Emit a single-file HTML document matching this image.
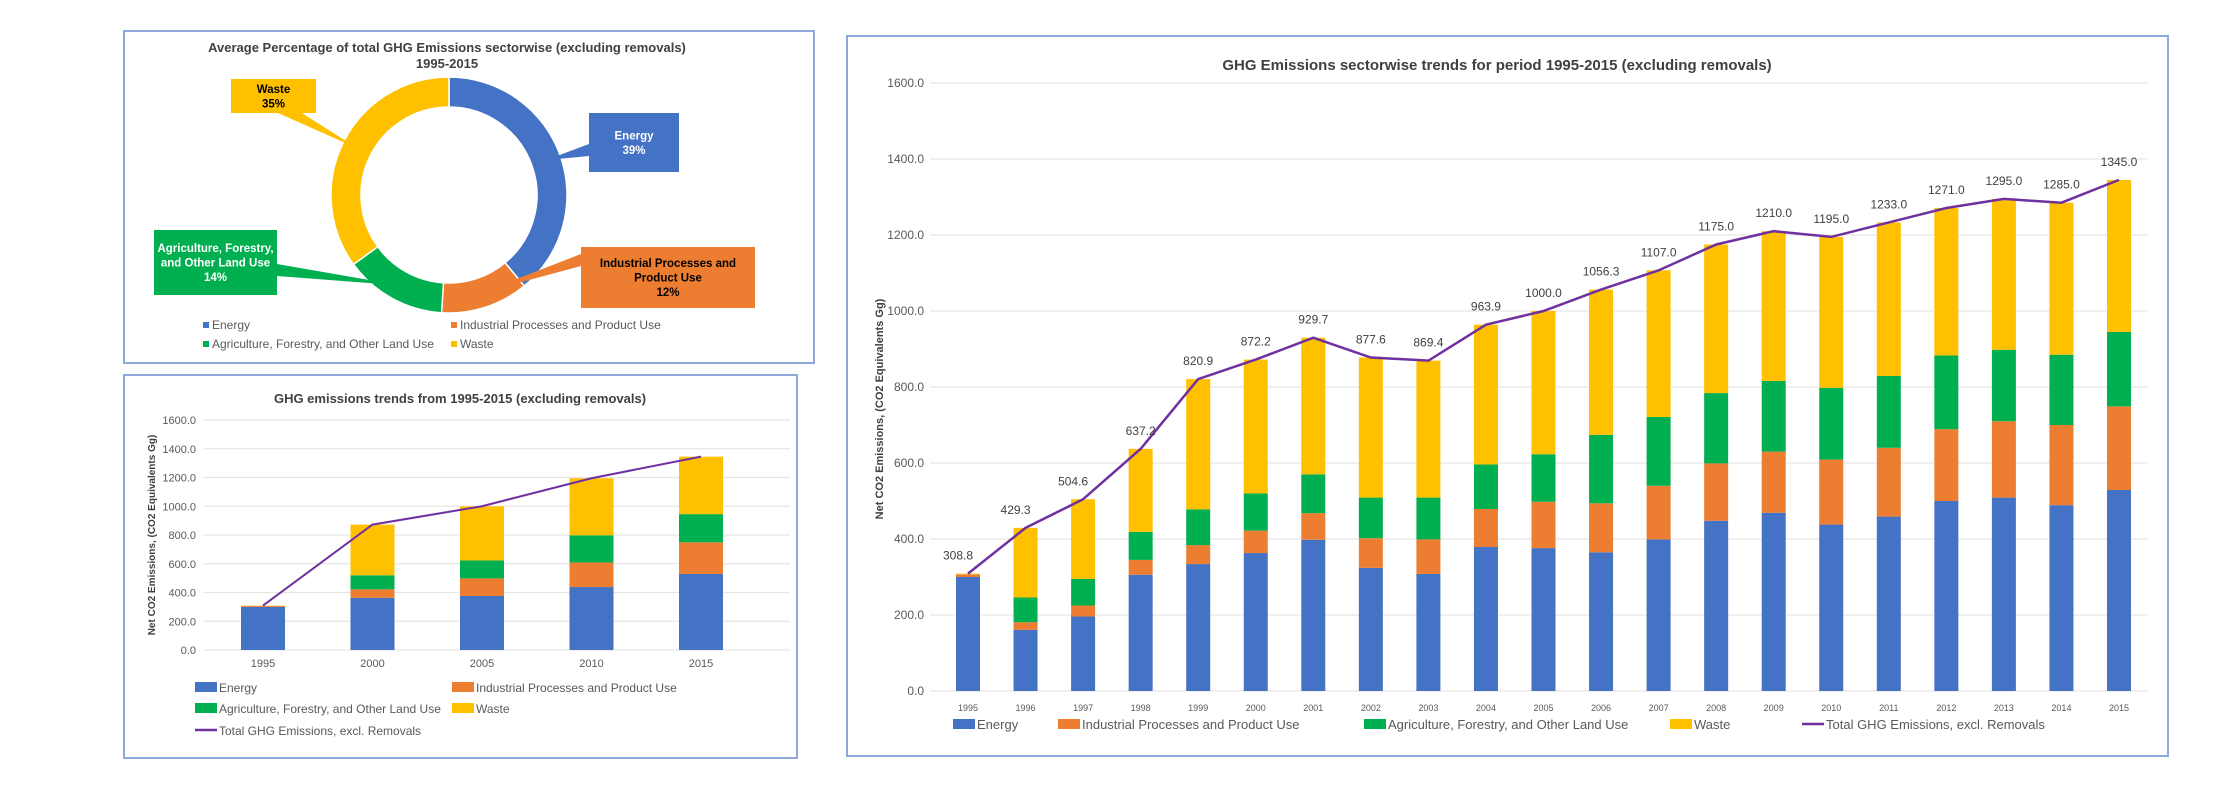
<!DOCTYPE html>
<html><head><meta charset="utf-8">
<style>
body{margin:0;background:#fff;width:2213px;height:800px;overflow:hidden;font-family:"Liberation Sans",sans-serif;}
svg{display:block}
</style></head>
<body>
<svg id="svg" width="2213" height="800" viewBox="0 0 2213 800" xmlns="http://www.w3.org/2000/svg">
  <rect x="124" y="31" width="690" height="332" fill="#fff" stroke="#8eaadb" stroke-width="2"/>
  <rect x="124" y="375" width="673" height="383" fill="#fff" stroke="#8eaadb" stroke-width="2"/>
  <rect x="847" y="36" width="1321" height="720" fill="#fff" stroke="#8eaadb" stroke-width="2"/>
  <g id="donut"></g>
  <g id="small"></g>
  <g id="big"></g>
</svg>
<script>
const years = ["1995","1996","1997","1998","1999","2000","2001","2002","2003","2004","2005","2006","2007","2008","2009","2010","2011","2012","2013","2014","2015"];
const energy = [300,161,196,306,334,363,398,324,308,379,376,365,399,448,469,438,459,500,509,489,529];
const industrial = [7,20,29,39,50,59,70,78,91,100,122,129,141,151,161,171,181,189,201,211,220];
const agriculture = [0,65,70,74,94,98,102,107,110,117,125,180,181,185,186,189,189,194,188,185,196];
const waste = [1.8,183.3,209.6,218.2,342.9,352.2,359.7,368.6,360.4,367.9,377,382.3,386,391,394,397,404,388,397,400,400];
const totals = [308.8,429.3,504.6,637.2,820.9,872.2,929.7,877.6,869.4,963.9,1000.0,1056.3,1107.0,1175.0,1210.0,1195.0,1233.0,1271.0,1295.0,1285.0,1345.0];
const yTicks = [0,200,400,600,800,1000,1200,1400,1600];
const smallYears = ["1995","2000","2005","2010","2015"];
const smallEnergy = [300,363,376,438,529];
const smallIndustrial = [7,59,122,171,220];
const smallAgriculture = [0,98,125,189,196];
const smallWaste = [1.8,352.2,377,397,400];
const smallTotals = [308.8,872.2,1000.0,1195.0,1345.0];
const donutLabels = ["Energy","Industrial Processes and Product Use","Agriculture, Forestry, and Other Land Use","Waste"];
const donutShares = [39,12,14,35];

const NS="http://www.w3.org/2000/svg";
const COLORS=["#4472c4","#ed7d31","#00b050","#ffc000"];
function mk(parent,tag,attrs,text){const e=document.createElementNS(NS,tag);for(const k in attrs)e.setAttribute(k,attrs[k]);if(text!==undefined)e.textContent=text;parent.appendChild(e);return e;}

function stacked(g,o){
  const y=v=>o.y0-(v/1600)*(o.y0-o.y1);
  const x=i=>o.xStart+i*o.step;
  yTicks.forEach(t=>{
    const l=mk(g,"line",{x1:o.gx0,x2:o.gx1,y1:y(t),y2:y(t),stroke:"#e6e6e6","stroke-width":1.2});
    
    
    const tx=mk(g,"text",{x:o.tickX,y:y(t)+4,"text-anchor":"end","font-size":o.tickFs,fill:"#595959"},t.toFixed(1));
    
    
  });
  o.cats.forEach((c,i)=>{
    let base=0;
    o.series.forEach((s,si)=>{
      const v=s[i];
      const r=mk(g,"rect",{x:x(i)-o.bw/2,y:y(base+v),width:o.bw,height:Math.max(0,y(base)-y(base+v)),fill:COLORS[si]});
      
      
      base+=v;
    });
    const t=mk(g,"text",{x:x(i),y:o.yearY,"text-anchor":"middle","font-size":o.yearFs,fill:"#595959"},c);
    
    
  });
  const pts=o.totals.map((v,i)=>x(i)+","+y(v)).join(" ");
  const pl=mk(g,"polyline",{points:pts,fill:"none",stroke:"#7030a0","stroke-width":o.lw});
  
  
  if(o.labels){
    o.totals.forEach((v,i)=>{
      const t=mk(g,"text",{x:x(i)-(i<3?10:0),y:y(v)-14,"text-anchor":"middle","font-size":12,fill:"#404040"},v.toFixed(1));
      
      
    });
  }
  const tt=mk(g,"text",{x:o.titleX,y:o.titleY,"text-anchor":"middle","font-size":o.titleFs,"font-weight":"bold",fill:"#404040"},o.title);
  
  
  const ya=mk(g,"text",{x:0,y:0,transform:`translate(${o.yaX},${o.yaY}) rotate(-90)`,"text-anchor":"middle","font-size":o.yaFs,"font-weight":"bold",fill:"#404040"},"Net CO2 Emissions, (CO2 Equivalents Gg)");
  
  
  o.legend.forEach(L=>{
    if(L.line){
      const ln=mk(g,"line",{x1:L.x,x2:L.x+22,y1:L.y,y2:L.y,stroke:"#7030a0","stroke-width":2.5});
      
      
    } else {
      const sw=mk(g,"rect",{x:L.x,y:L.y-5,width:22,height:10,fill:COLORS[L.c]});
      
      
    }
    const lt=mk(g,"text",{x:L.x+24,y:L.y+5,"font-size":o.legFs,fill:"#595959"},L.t);
    
    
  });
}

stacked(document.getElementById('big'),{
  cats:years,series:[energy,industrial,agriculture,waste],totals:totals,
  y0:691,y1:83,xStart:968,step:57.55,bw:24,gx0:930,gx1:2148,tickX:924,tickFs:12,
  yearY:711,yearFs:9,lw:2.5,labels:true,
  title:"GHG Emissions sectorwise trends for period 1995-2015 (excluding removals)",titleX:1497,titleY:70,titleFs:15,
  yaX:883,yaY:409,yaFs:11,legFs:13,
  legend:[{x:953,y:724,c:0,t:"Energy"},{x:1058,y:724,c:1,t:"Industrial Processes and Product Use"},{x:1364,y:724,c:2,t:"Agriculture, Forestry, and Other Land Use"},{x:1670,y:724,c:3,t:"Waste"},{x:1802,y:724,line:true,t:"Total GHG Emissions, excl. Removals"}]
});
stacked(document.getElementById('small'),{
  cats:smallYears,series:[smallEnergy,smallIndustrial,smallAgriculture,smallWaste],totals:smallTotals,
  y0:650,y1:420,xStart:263,step:109.5,bw:44,gx0:203,gx1:790,tickX:196,tickFs:11,
  yearY:667,yearFs:11,lw:2,labels:false,
  title:"GHG emissions trends from 1995-2015 (excluding removals)",titleX:460,titleY:403,titleFs:13,
  yaX:155,yaY:535,yaFs:10,legFs:12,
  legend:[{x:195,y:687,c:0,t:"Energy"},{x:452,y:687,c:1,t:"Industrial Processes and Product Use"},{x:195,y:708,c:2,t:"Agriculture, Forestry, and Other Land Use"},{x:452,y:708,c:3,t:"Waste"},{x:195,y:730,line:true,t:"Total GHG Emissions, excl. Removals"}]
});

// donut
(function(){
  const g=document.getElementById('donut');
  const cx=449,cy=195,R=118,r=88;
  const t1=mk(g,"text",{x:447,y:52,"text-anchor":"middle","font-size":13,"font-weight":"bold",fill:"#404040"},"Average Percentage of total GHG Emissions sectorwise (excluding removals)");
  
  
  const t2=mk(g,"text",{x:447,y:68,"text-anchor":"middle","font-size":13,"font-weight":"bold",fill:"#404040"},"1995-2015");
  
  
  const total=donutShares.reduce((a,b)=>a+b,0);
  let a0=0;
  const pt=(rad,a)=>[cx+rad*Math.sin(a),cy-rad*Math.cos(a)];
  const mids=[];
  donutShares.forEach((s,i)=>{
    const a1=a0+s/total*2*Math.PI;
    const [x1,y1]=pt(R,a0),[x2,y2]=pt(R,a1),[x3,y3]=pt(r,a1),[x4,y4]=pt(r,a0);
    const lg=(a1-a0)>Math.PI?1:0;
    const p=mk(g,"path",{d:`M${x1},${y1}A${R},${R} 0 ${lg} 1 ${x2},${y2}L${x3},${y3}A${r},${r} 0 ${lg} 0 ${x4},${y4}Z`,fill:COLORS[i],stroke:"#fff","stroke-width":1.5});
    
    
    mids.push(pt((R+r)/2,(a0+a1)/2));
    a0=a1;
  });
  const boxes=[
    {x:589,y:113,w:90,h:59,lines:["Energy","39%"],fc:"#fff",anchor:[589,150]},
    {x:581,y:247,w:174,h:61,lines:["Industrial Processes and","Product Use","12%"],fc:"#000",anchor:[581,260]},
    {x:154,y:230,w:123,h:65,lines:["Agriculture, Forestry,","and Other Land Use","14%"],fc:"#fff",anchor:[277,270]},
    {x:231,y:79,w:85,h:34,lines:["Waste","35%"],fc:"#000",anchor:[290,113]}
  ];
  boxes.forEach((b,i)=>{
    const [mx,my]=mids[i];
    const tri=mk(g,"polygon",{points:`${b.anchor[0]},${b.anchor[1]-6} ${b.anchor[0]},${b.anchor[1]+6} ${mx},${my}`,fill:COLORS[i]});
    if(i===3) tri.setAttribute('points',`${b.anchor[0]-12},${b.anchor[1]} ${b.anchor[0]+12},${b.anchor[1]} ${mx},${my}`);
    
    
    const rc=mk(g,"rect",{x:b.x,y:b.y,width:b.w,height:b.h,fill:COLORS[i]});
    
    
    const lh=14.5, start=b.y+b.h/2-(b.lines.length-1)*lh/2+4;
    b.lines.forEach((ln,j)=>{
      const t=mk(g,"text",{x:b.x+b.w/2,y:start+j*lh,"text-anchor":"middle","font-size":11.5,"font-weight":"bold",fill:b.fc},ln);
      
      
    });
  });
  const leg=[[206,326],[454,326],[206,345],[454,345]];
  donutLabels.forEach((l,i)=>{
    const s=mk(g,"rect",{x:leg[i][0]-3,y:leg[i][1]-4,width:6,height:6,fill:COLORS[i]});
    
    
    const t=mk(g,"text",{x:leg[i][0]+6,y:leg[i][1]+3,"font-size":12,fill:"#595959"},l);
    
    
  });
})();
</script>
</body></html>
